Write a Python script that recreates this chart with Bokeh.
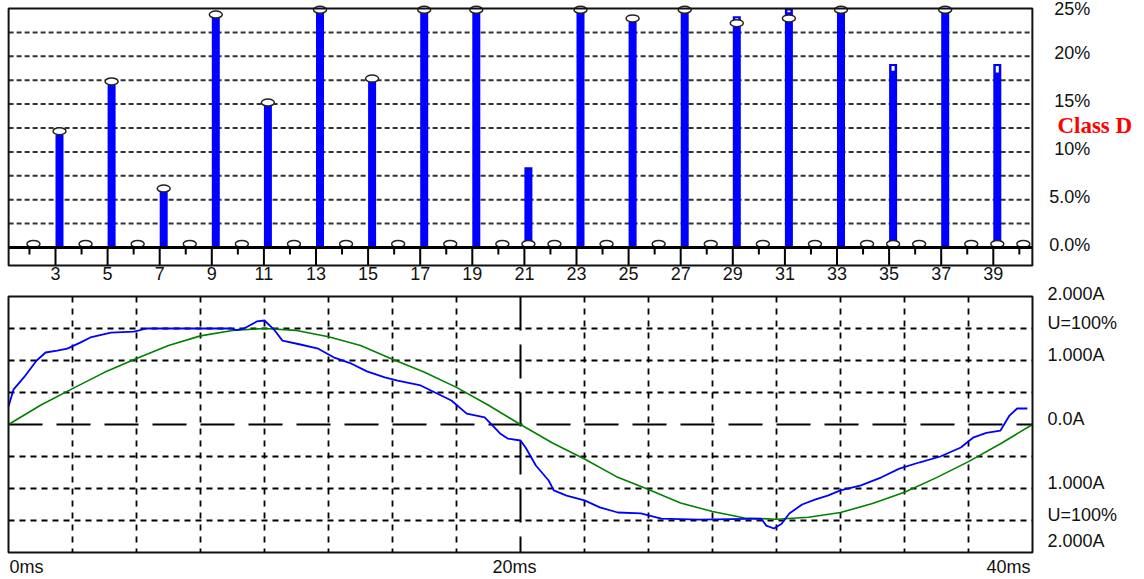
from bokeh.plotting import figure
from bokeh.models import Range1d
from bokeh.core.properties import value
from bokeh.embed import file_html
from bokeh.resources import INLINE

# ---------------- harmonic chart data (percent) ----------------
harmonic = list(range(2, 41))
measured = [0, 11.8, 0, 17.0, 0, 5.8, 0, 24.0, 0, 14.8, 0, 27.0, 0, 17.3, 0, 27.0, 0, 27.0, 0, 8.4,
            0, 27.0, 0, 23.6, 0, 27.0, 0, 23.8, 0, 24.6, 0, 27.0, 0, 18.5, 0, 27.0, 0, 18.3, 0]
maximum = [0, 11.8, 0, 17.0, 0, 5.8, 0, 24.0, 0, 14.8, 0, 27.0, 0, 17.3, 0, 27.0, 0, 27.0, 0, 8.4,
           0, 27.0, 0, 23.6, 0, 27.0, 0, 24.2, 0, 27.0, 0, 27.0, 0, 19.2, 0, 27.0, 0, 19.2, 0]
limit = [0, 11.8, 0, 17.0, 0, 5.8, 0, 24.0, 0, 14.8, 0, 24.5, 0, 17.3, 0, 24.5, 0, 24.5, 0, 0,
         0, 24.5, 0, 23.6, 0, 24.5, 0, 23.1, 0, 23.6, 0, 24.5, 0, 0, 0, 24.5, 0, 0, 0]
harm_ticks = [3, 5, 7, 9, 11, 13, 15, 17, 19, 21, 23, 25, 27, 29, 31, 33, 35, 37, 39]
harm_tick_labels = ["3", "5", "7", "9", "11", "13", "15", "17", "19", "21", "23", "25", "27",
                    "29", "31", "33", "35", "37", "39"]
pct_ticks = [0, 5, 10, 15, 20, 25]
pct_labels = ["0.0%", "5.0%", "10%", "15%", "20%", "25%"]
class_label = "Class D"
class_label_y = 12.75

# ---------------- waveform data (grid units, 1 unit = 0.5 A) ----------------
time_u = [0, 1.25, 2.5, 3.75, 5, 6.25, 7.5, 8.75, 10, 11.25, 12.5, 13.75, 15, 16.25, 17.5, 18.75,
          20, 21.25, 22.5, 23.75, 25, 26.25, 27.5, 28.75, 30, 31.25, 32.5, 33.75, 35, 36.25, 37.5,
          38.75, 40]
voltage = [0.0, 0.6, 1.12, 1.63, 2.06, 2.47, 2.77, 2.94, 3.0, 2.94, 2.74, 2.47, 2.04, 1.63, 1.16,
           0.6, 0.0, -0.58, -1.08, -1.63, -2.03, -2.45, -2.72, -2.92, -2.96, -2.9, -2.75, -2.47,
           -2.12, -1.66, -1.16, -0.6, 0.0]
time_i = [0, 0.2, 0.6, 1.1, 1.45, 1.9, 2.3, 2.8, 3.2, 4.0, 4.9, 5.4, 8.7, 8.9, 9.2, 9.7, 10.0,
          10.4, 10.7, 11.4, 12.1, 12.7, 13.4, 14.0, 14.7, 15.2, 16.1, 17.3, 17.9, 18.6, 18.8, 19.2,
          19.5, 20.0, 20.2, 20.6, 21.1, 21.3, 21.8, 22.5, 23.1, 23.8, 24.7, 25.5, 27.0, 29.4, 29.6,
          29.9, 30.2, 30.5, 31.0, 31.5, 32.0, 32.5, 33.3, 34.1, 34.8, 35.6, 36.4, 37.2, 37.7, 38.2,
          38.75, 39.1, 39.4, 39.8]
current = [0.56, 1.1, 1.47, 2.0, 2.25, 2.31, 2.37, 2.56, 2.72, 2.87, 2.9, 3.0, 3.0, 2.95, 3.0,
           3.22, 3.25, 2.94, 2.62, 2.5, 2.37, 2.1, 1.9, 1.66, 1.47, 1.37, 1.22, 0.75, 0.34, 0.22,
           0.06, -0.28, -0.44, -0.5, -0.72, -1.28, -1.75, -2.06, -2.22, -2.37, -2.59, -2.75,
           -2.78, -2.94, -2.97, -2.94, -3.16, -3.25, -3.1, -2.78, -2.5, -2.35, -2.22, -2.06, -1.9,
           -1.65, -1.38, -1.18, -1.0, -0.72, -0.4, -0.26, -0.19, 0.28, 0.5, 0.5]
amp_ticks = [4, 3, 2, 0, -2, -3, -4]
amp_labels = ["2.000A", "U=100%", "1.000A", "0.0A", "1.000A", "U=100%", "2.000A"]
time_ticks = [0, 20, 40]
time_labels = ["0ms", "20ms", "40ms"]

FONT = value("Liberation Sans")
FSIZE = value("18px")
TXT = "#111111"
BLUE = "#0000ff"
GREEN = "#008000"
W, H = 1140, 578

# scales: top chart uses default ranges (harmonic / percent),
# bottom chart uses extra ranges "t" (ms) and "v" (grid units)
PXX1, PXY1 = 26.05, 9.56      # px per harmonic, px per percent
X0PX, Y0PX = 55, 247          # px of harmonic 3, px of 0 %
PXX2, PXY2 = 25.6, 32.0       # px per ms, px per grid unit
T0PX, V0PX = 8, 424           # px of 0 ms, px of zero line

p = figure(width=W, height=H,
           x_range=Range1d(3 - X0PX / PXX1, 3 + (W - X0PX) / PXX1),
           y_range=Range1d((Y0PX - H) / PXY1, Y0PX / PXY1),
           x_axis_location=None, y_axis_location=None, toolbar_location=None,
           output_backend="svg", min_border=0, min_border_left=0, min_border_right=0,
           min_border_top=0, min_border_bottom=0)
p.extra_x_ranges = {"t": Range1d(-T0PX / PXX2, (W - T0PX) / PXX2)}
p.extra_y_ranges = {"v": Range1d((V0PX - H) / PXY2, V0PX / PXY2)}
p.outline_line_color = None
p.background_fill_color = "white"
p.border_fill_color = "white"
p.xgrid.visible = False
p.ygrid.visible = False

# ======================= top: harmonics =======================
x_lo, x_hi = 1.2, 40.5
y_lo, y_hi = -1.88, 25.0

grid_pct = [2.5 * i for i in range(1, 10)]
p.segment(x0=[x_lo] * len(grid_pct), y0=grid_pct, x1=[x_hi] * len(grid_pct), y1=grid_pct,
          line_color="#333333", line_dash="5 3", line_width=2)

odd = [h for h in harmonic if h % 2]
even = [h for h in harmonic if h % 2 == 0]
p.segment(x0=odd, y0=[0] * len(odd), x1=odd, y1=[y_lo] * len(odd),
          line_color="black", line_width=2)
p.segment(x0=even, y0=[0] * len(even), x1=even, y1=[-7 / PXY1] * len(even),
          line_color="black", line_width=2)

bar_w = 8 / PXX1
right = [h + bar_w for h in harmonic]
p.quad(left=harmonic, right=right, bottom=0, top=[min(v, y_hi) for v in maximum],
       fill_color=BLUE, line_color=None)
gap = [(h, m, mx) for h, m, mx in zip(harmonic, measured, maximum) if mx > m]
p.quad(left=[g[0] + 2.5 / PXX1 for g in gap], right=[g[0] + 5.5 / PXX1 for g in gap],
       bottom=[g[1] for g in gap], top=[min(g[2], y_hi) - 2 / PXY1 for g in gap],
       fill_color="white", line_color=None)

p.ellipse(x=[h + bar_w / 2 for h in harmonic], y=[v + 3.5 / PXY1 for v in limit],
          width=13, height=7, width_units="screen", height_units="screen",
          fill_color="white", line_color="#222222", line_width=1.5)
p.segment(x0=[x_lo], y0=[0], x1=[x_hi], y1=[0], line_color="black", line_width=3)
p.quad(left=[x_lo], right=[x_hi], bottom=[y_lo], top=[y_hi], fill_color=None,
       line_color="#111111", line_width=2)

p.text(x=harm_ticks, y=[y_lo - 1.5 / PXY1] * len(harm_ticks), text=harm_tick_labels,
       text_align=value("center"), text_baseline=value("top"), text_font=FONT,
       text_font_size=FSIZE, text_color=TXT)
p.text(x=[x_hi + 58 / PXX1] * len(pct_ticks),
       y=[min(v + 3 / PXY1, y_hi) for v in pct_ticks],
       text=pct_labels, text_align=value("right"), text_baseline=value("middle"),
       text_font=FONT, text_font_size=FSIZE, text_color=TXT)
p.text(x=[x_hi + 25 / PXX1], y=[class_label_y], text=[class_label],
       text_align=value("left"), text_baseline=value("middle"),
       text_font=value("Liberation Serif"), text_font_style=value("bold"),
       text_font_size=value("23px"), text_color="#ff0000")

# ======================= bottom: waveforms =======================
R = dict(x_range_name="t", y_range_name="v")
t_lo, t_hi, v_lo, v_hi = 0, 40, -4, 4
vgrid = [2.5 * i for i in range(1, 16) if i != 8]
p.segment(x0=vgrid, y0=[v_hi] * len(vgrid), x1=vgrid, y1=[v_lo] * len(vgrid),
          line_color="black", line_dash="6 6", line_width=1.8, **R)
hgrid = [-3, -2, -1, 1, 2, 3]
p.segment(x0=[t_lo] * len(hgrid), y0=hgrid, x1=[t_hi] * len(hgrid), y1=hgrid,
          line_color="black", line_dash="6 5", line_width=1.8, **R)
p.segment(x0=[t_lo], y0=[0], x1=[t_hi], y1=[0], line_color="black", line_width=2,
          line_dash="34 14", **R)
p.segment(x0=[20], y0=[v_hi], x1=[20], y1=[v_lo], line_color="black", line_width=2,
          line_dash="34 14", **R)

p.line(time_u, voltage, line_color=GREEN, line_width=1.6, **R)
p.line(time_i, current, line_color=BLUE, line_width=1.8, **R)
p.quad(left=[t_lo], right=[t_hi], bottom=[v_lo], top=[v_hi], fill_color=None,
       line_color="#111111", line_width=2, **R)

amp_y = [min(max(v + 6 / PXY2, v_lo + 12 / PXY2), v_hi + 3 / PXY2) for v in amp_ticks]
p.text(x=[t_hi + 15 / PXX2] * len(amp_ticks), y=amp_y,
       text=amp_labels, text_align=value("left"), text_baseline=value("middle"),
       text_font=FONT, text_font_size=FSIZE, text_color=TXT, **R)
p.text(x=[time_ticks[0] + 1 / PXX2], y=[v_lo - 4 / PXY2], text=[time_labels[0]],
       text_align=value("left"), text_baseline=value("top"), text_font=FONT,
       text_font_size=FSIZE, text_color=TXT, **R)
p.text(x=[time_ticks[1] - 6 / PXX2], y=[v_lo - 4 / PXY2], text=[time_labels[1]],
       text_align=value("center"), text_baseline=value("top"), text_font=FONT,
       text_font_size=FSIZE, text_color=TXT, **R)
p.text(x=[time_ticks[2] - 2 / PXX2], y=[v_lo - 4 / PXY2], text=[time_labels[2]],
       text_align=value("right"), text_baseline=value("top"), text_font=FONT,
       text_font_size=FSIZE, text_color=TXT, **R)

open("out.html", "w").write(file_html(p, INLINE))
